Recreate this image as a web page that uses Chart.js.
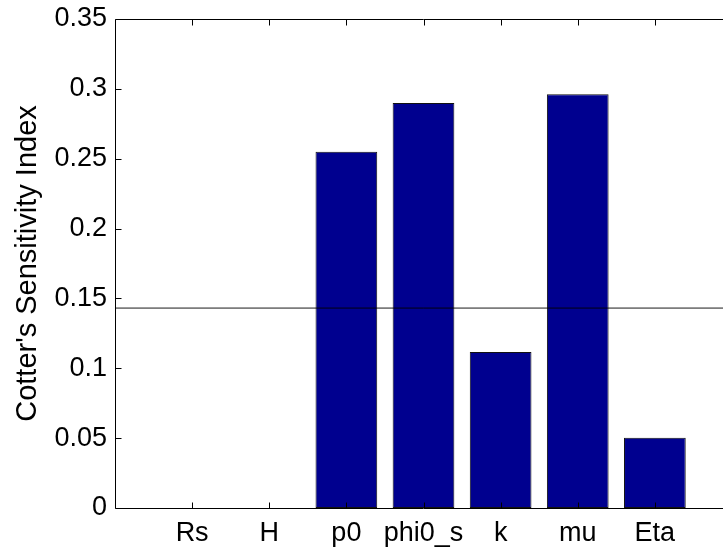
<!DOCTYPE html>
<html>
<head>
<meta charset="utf-8">
<title>Cotter's Sensitivity Index</title>
<script src="https://cdn.jsdelivr.net/npm/chart.js@4/dist/chart.umd.min.js"></script>
<style>
  html, body { margin: 0; padding: 0; background: #fff; overflow: hidden; }
  #wrap { width: 723px; height: 548px; overflow: hidden; }
  canvas { display: block; }
</style>
</head>
<body>
<div id="wrap"><canvas id="chart" width="732" height="548"></canvas></div>
<script>
// Parameters and their Cotter sensitivity indices
const parameters = ['Rs', 'H', 'p0', 'phi0_s', 'k', 'mu', 'Eta'];
const cotterIndex = [0, 0, 0.255, 0.2898, 0.1116, 0.2961, 0.0503];
// Reference level: equal share across all parameters
const threshold = 0.1431;
const yTicks = [0, 0.05, 0.1, 0.15, 0.2, 0.25, 0.3, 0.35];
const xRange = [0, 8];

const FONT = "'Liberation Sans', Arial, Helvetica, sans-serif";
const barData = parameters.map((p, i) => ({ x: i + 1, y: cotterIndex[i] }));
const lineData = xRange.map(x => ({ x: x, y: threshold }));

// Box around the axes with short inward tick marks on every side
const axesBox = {
  id: 'axesBox',
  afterDraw(chart) {
    const { ctx, chartArea: a, scales: { x, y } } = chart;
    ctx.save();
    ctx.strokeStyle = '#000';
    ctx.lineWidth = 1;
    const L = Math.round(a.left) + 0.5, R = Math.round(a.right) - 0.5;
    const T = Math.round(a.top) + 0.5, B = Math.round(a.bottom) + 0.5;
    ctx.beginPath();
    ctx.moveTo(L, T); ctx.lineTo(R, T); ctx.lineTo(R, B); ctx.lineTo(L, B); ctx.closePath();
    ctx.stroke();
    const tl = 6;
    ctx.beginPath();
    yTicks.forEach(v => {
      const py = Math.round(y.getPixelForValue(v)) + 0.5;
      ctx.moveTo(L, py); ctx.lineTo(L + tl, py);
      ctx.moveTo(R, py); ctx.lineTo(R - tl, py);
    });
    parameters.forEach((p, i) => {
      const px = Math.round(x.getPixelForValue(i + 1)) + 0.5;
      ctx.moveTo(px, B); ctx.lineTo(px, B - tl);
      ctx.moveTo(px, T); ctx.lineTo(px, T + tl);
    });
    ctx.stroke();
    ctx.restore();
  }
};

new Chart(document.getElementById('chart'), {
  data: {
    datasets: [
      {
        type: 'line',
        data: lineData,
        borderColor: 'rgba(0,0,0,0.9)',
        borderWidth: 1,
        pointRadius: 0,
        order: 0
      },
      {
        type: 'bar',
        data: barData,
        backgroundColor: '#00008F',
        borderColor: '#111',
        borderWidth: 1,
        borderSkipped: false,
        barPercentage: 0.8,
        categoryPercentage: 1.0,
        order: 1
      }
    ]
  },
  options: {
    responsive: false,
    animation: false,
    devicePixelRatio: 1,
    layout: { padding: { top: 19, right: 0, left: 0, bottom: 0 } },
    plugins: { legend: { display: false }, tooltip: { enabled: false } },
    scales: {
      x: {
        type: 'linear',
        offset: false,
        min: xRange[0],
        max: xRange[1],
        grid: { display: false, drawTicks: false, offset: false },
        border: { display: false },
        afterBuildTicks: s => { s.ticks = parameters.map((p, i) => ({ value: i + 1 })); },
        afterFit: s => { s.height = 40; s.paddingLeft = 0; s.paddingRight = 0; },
        ticks: {
          autoSkip: false,
          maxRotation: 0,
          padding: 9,
          color: '#000',
          font: { family: FONT, size: 27 },
          callback: v => parameters[v - 1]
        }
      },
      y: {
        type: 'linear',
        min: 0,
        max: 0.35,
        grid: { display: false, drawTicks: false },
        border: { display: false },
        afterBuildTicks: s => { s.ticks = yTicks.map(v => ({ value: v })); },
        afterFit: s => { s.width = 115; s.paddingTop = 0; s.paddingBottom = 0; },
        ticks: {
          padding: 8,
          color: '#000',
          font: { family: FONT, size: 27 },
          callback: v => String(v)
        },
        title: {
          display: true,
          text: "Cotter's Sensitivity Index",
          color: '#000',
          font: { family: FONT, size: 29 },
          padding: { top: 11, bottom: 0 }
        }
      }
    }
  },
  plugins: [axesBox]
});
</script>
</body>
</html>
